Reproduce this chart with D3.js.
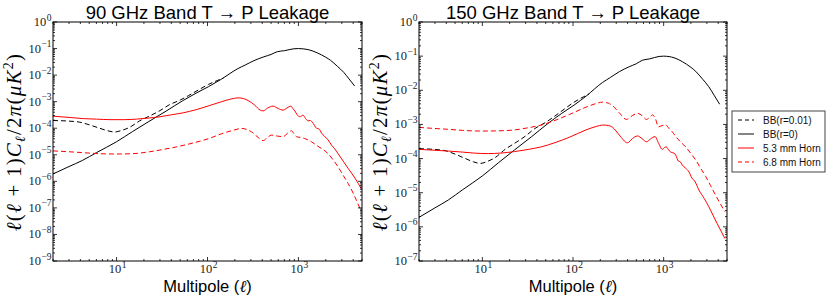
<!DOCTYPE html>
<html>
<head>
<meta charset="utf-8">
<style>
  body { margin: 0; background: #fff; }
  text { font-family: "Liberation Sans", Arial, sans-serif; }
</style>
</head>
<body>
<svg></svg>
<script src="https://cdnjs.cloudflare.com/ajax/libs/d3/7.8.5/d3.min.js"></script>
<script>
// values: [multipole l, l(l+1)C_l/2pi in uK^2]
const bbR0 = [[2,1.9e-6],[3,3.6e-6],[4.2,6.1e-6],[6,1.2e-5],[10,3.1e-5],[15,7.5e-5],[22.7,1.8e-4],
  [35,4.4e-4],[53,1.07e-3],[75,2.1e-3],[103,3.7e-3],[140,6.8e-3],[212,0.017],[260,0.024],[324,0.035],
  [417,0.049],[500,0.06],[584,0.076],[700,0.083],[891,0.098],[1000,0.1],[1148,0.097],[1300,0.09],
  [1607,0.069],[2000,0.047],[2255,0.036],[2700,0.021],[3150,0.0127],[3600,7.2e-3],[4150,3.9e-3]];

const bbR001 = [[2,1.95e-4],[3,1.85e-4],[3.9,1.7e-4],[5,1.35e-4],[6.4,1.02e-4],[8,8e-5],[9.5,7.2e-5],
  [11,8e-5],[13.7,1.05e-4],[18,1.9e-4],[22.7,2.8e-4],[30,4.6e-4],[37.7,7.5e-4],[50,1.15e-3],[62,1.7e-3],
  [80,2.8e-3],[103,4.5e-3],[130,6.4e-3],[150,7.8e-3]];

const horn53_90 = [[2,2.85e-4],[3,2.55e-4],[4.3,2.3e-4],[6,2.2e-4],[8.5,2.1e-4],[12,2.1e-4],[16.6,2.2e-4],
  [22,2.4e-4],[30,2.7e-4],[40,3.2e-4],[54,3.8e-4],[75,5e-4],[106,7.2e-4],[143,1e-3],[180,1.25e-3],
  [217,1.39e-3],[250,1.3e-3],[280,1.1e-3],[331,7.4e-4],[380,4.8e-4],[409,4.5e-4],[460,5.8e-4],
  [527,6.8e-4],[600,5.5e-4],[679,4.8e-4],[750,5.8e-4],[824,6.8e-4],[870,5.5e-4],[912,4.5e-4],
  [970,3.2e-4],[1035,2.7e-4],[1125,3.1e-4],[1200,2.3e-4],[1276,1.9e-4],[1350,1.95e-4],[1420,1.7e-4],
  [1581,1e-4],[1680,9.5e-5],[1800,6.5e-5],[1950,4.8e-5],[2100,3.8e-5],[2312,2.3e-5],[2500,1.7e-5],
  [2730,1.1e-5],[3100,5.8e-6],[3515,3.1e-6],[4200,1.3e-6],[4950,5e-7]];

const horn68_90 = [[2,1.4e-5],[3,1.3e-5],[4.3,1.2e-5],[6.5,1.1e-5],[10,1.07e-5],[15,1.1e-5],[23,1.3e-5],
  [33,1.6e-5],[46,2e-5],[70,2.8e-5],[106,4.2e-5],[143,6.2e-5],[190,8.3e-5],[237,9.8e-5],[270,9e-5],
  [305,7.3e-5],[360,4.5e-5],[409,3.4e-5],[460,4.6e-5],[506,5.5e-5],[600,5e-5],[679,4.8e-5],[760,6.5e-5],
  [840,8e-5],[900,6e-5],[953,4.8e-5],[1050,4.5e-5],[1175,4.1e-5],[1280,3.6e-5],[1390,3.1e-5],
  [1600,2.2e-5],[1850,1.6e-5],[2120,1.1e-5],[2400,6.5e-6],[2730,3.5e-6],[3100,1.7e-6],[3515,8.4e-7],
  [4100,3e-7],[4740,9.6e-8]];

const horn53_150 = [[2,1.86e-4],[3,1.75e-4],[4.2,1.66e-4],[6,1.55e-4],[8,1.45e-4],[11.6,1.4e-4],[16,1.45e-4],
  [22.7,1.6e-4],[32,1.85e-4],[44.6,2.2e-4],[65,3e-4],[91,4.2e-4],[139,6.9e-4],[180,8.7e-4],[212,9.6e-4],
  [245,9.3e-4],[274,8.2e-4],[324,4.9e-4],[399,2.9e-4],[450,3.8e-4],[515,4.6e-4],[580,3.8e-4],[646,3.1e-4],
  [720,3.8e-4],[804,4.4e-4],[880,2.8e-4],[966,1.86e-4],[1020,2.1e-4],[1070,2.2e-4],[1150,1.7e-4],
  [1230,1.5e-4],[1300,1.45e-4],[1360,1.26e-4],[1450,8.5e-5],[1530,8e-5],[1607,6.5e-5],[1750,5.2e-5],
  [1900,4.1e-5],[2050,2.7e-5],[2200,2.2e-5],[2450,1.2e-5],[2800,6.8e-6],[3150,3.9e-6],[3500,2.2e-6],
  [3890,1.26e-6],[4300,7.5e-7],[4730,4.6e-7]];

const horn68_150 = [[2,8.2e-4],[3,7.6e-4],[4.2,7.2e-4],[6,6.7e-4],[9.8,6.4e-4],[15,6.5e-4],[22.7,6.9e-4],
  [32,8e-4],[44.6,9.6e-4],[65,1.35e-3],[91,1.95e-3],[139,3.2e-3],[180,4.1e-3],[212,4.5e-3],[245,4.2e-3],
  [274,3.5e-3],[324,2.2e-3],[389,1.4e-3],[450,1.8e-3],[515,2.1e-3],[580,1.8e-3],[646,1.4e-3],[700,1.6e-3],
  [753,1.9e-3],[810,1.5e-3],[877,8.5e-4],[960,9.2e-4],[1057,9.6e-4],[1150,7.5e-4],[1250,6e-4],
  [1360,4.4e-4],[1550,3e-4],[1750,2.2e-4],[2000,1.4e-4],[2255,9.1e-5],[2550,5.3e-5],[2905,3e-5],
  [3300,1.6e-5],[3740,8.5e-6],[4730,2.8e-6]];

const xDomain = [2, 5000];
const xMajor = [10, 100, 1000];
const legendLabels = ['BB(r=0.01)', 'BB(r=0)', '5.3 mm Horn', '6.8 mm Horn'];
const titles = ['90 GHz Band T \u2192 P Leakage', '150 GHz Band T \u2192 P Leakage'];
const yExp = [[-9, 0], [-7, 0]];

const width = 830, height = 302;
const svg = d3.select('svg').attr('width', width).attr('height', height);
const serif = '"Liberation Serif", "DejaVu Serif", serif';

// line styles per series (same order as legend)
const styles = [
  { color: '#000', dash: '5,3' },
  { color: '#000', dash: null },
  { color: '#ff0000', dash: null },
  { color: '#ff0000', dash: '5,3' }
];

const panels = [
  { left: 53, right: 362, top: 22, bottom: 261, exp: yExp[0], title: titles[0],
    series: [bbR001, bbR0, horn53_90, horn68_90] },
  { left: 419, right: 727, top: 22, bottom: 261, exp: yExp[1], title: titles[1],
    series: [bbR001, bbR0, horn53_150, horn68_150] }
];

function powLabel(g, x, y, k, anchor) {
  const t = g.append('text').attr('x', x).attr('y', y).attr('text-anchor', anchor)
    .style('font-family', serif).style('font-size', '12.5px').attr('fill', '#222');
  t.append('tspan').text('10');
  t.append('tspan').attr('dy', -5.5).attr('dx', 0.5).style('font-size', '9.5px')
    .text(k < 0 ? '\u2212' + (-k) : String(k));
}

panels.forEach((p, i) => {
  const x = d3.scaleLog().domain(xDomain).range([p.left, p.right]);
  const y = d3.scaleLog().domain([Math.pow(10, p.exp[0]), Math.pow(10, p.exp[1])]).range([p.bottom, p.top]);
  const g = svg.append('g');

  g.append('clipPath').attr('id', 'clip' + i).append('rect')
    .attr('x', p.left).attr('y', p.top).attr('width', p.right - p.left).attr('height', p.bottom - p.top);

  const line = d3.line().x(d => x(d[0])).y(d => y(d[1])).curve(d3.curveMonotoneX);
  const curves = g.append('g').attr('clip-path', 'url(#clip' + i + ')');
  p.series.forEach((s, j) => {
    curves.append('path').datum(s)
      .attr('d', line)
      .attr('fill', 'none')
      .attr('stroke', styles[j].color)
      .attr('stroke-width', 1)
      .attr('stroke-dasharray', styles[j].dash);
  });

  // ticks, inward on all four sides
  const xTicks = [];
  for (let k = 0; k <= 3; k++) {
    for (let m = 1; m <= 9; m++) {
      const v = m * Math.pow(10, k);
      if (v >= xDomain[0] && v <= xDomain[1]) xTicks.push(v);
    }
  }
  const ticks = g.append('g').attr('stroke', '#000').attr('stroke-width', 0.8);
  xTicks.forEach(v => {
    const len = xMajor.includes(v) ? 4 : 2;
    const px = x(v);
    ticks.append('line').attr('x1', px).attr('x2', px).attr('y1', p.bottom).attr('y2', p.bottom - len);
    ticks.append('line').attr('x1', px).attr('x2', px).attr('y1', p.top).attr('y2', p.top + len);
  });
  for (let k = p.exp[0]; k <= p.exp[1]; k++) {
    for (let m = 1; m <= 9; m++) {
      if (k === p.exp[1] && m > 1) break;
      const py = y(m * Math.pow(10, k));
      const len = m === 1 ? 4 : 2;
      ticks.append('line').attr('x1', p.left).attr('x2', p.left + len).attr('y1', py).attr('y2', py);
      ticks.append('line').attr('x1', p.right).attr('x2', p.right - len).attr('y1', py).attr('y2', py);
    }
    powLabel(g, p.left - 1.5, y(Math.pow(10, k)) + 4, k, 'end');
  }
  xMajor.forEach(v => powLabel(g, x(v) + 1, 273, Math.round(Math.log10(v)), 'middle'));

  g.append('rect')
    .attr('x', p.left).attr('y', p.top)
    .attr('width', p.right - p.left).attr('height', p.bottom - p.top)
    .attr('fill', 'none').attr('stroke', '#000').attr('stroke-width', 1);

  // title
  g.append('text').attr('x', (p.left + p.right) / 2).attr('y', 18.5)
    .attr('text-anchor', 'middle').style('font-size', '18.5px').text(p.title);

  // x label
  const xl = g.append('text').attr('x', (p.left + p.right) / 2).attr('y', 292)
    .attr('text-anchor', 'middle').style('font-size', '16.5px');
  xl.append('tspan').text('Multipole (');
  xl.append('tspan').style('font-family', serif).style('font-style', 'italic').text('\u2113');
  xl.append('tspan').text(')');

  // y label
  const cy = (p.top + p.bottom) / 2 + 0.5;
  const yl = g.append('text').attr('transform', `translate(${p.left - 32},${cy}) rotate(-90)`)
    .attr('text-anchor', 'middle').style('font-family', serif).style('font-size', '21px')
    .style('letter-spacing', '1.2px');
  const parts = [
    ['\u2113', 'i'], ['(', ''], ['\u2113', 'i'], [' + 1)', ''], ['C', 'i'], ['\u2113', 'sub'],
    ['/2', ''], ['\u03c0', 'i'], ['(', ''], ['\u03bcK', 'i'], ['2', 'sup'], [')', '']
  ];
  parts.forEach(([t, kind], idx) => {
    const ts = yl.append('tspan').text(t);
    if (kind === 'i') ts.style('font-style', 'italic');
    if (kind === 'sub') ts.attr('dy', 4).style('font-size', '14px').style('font-style', 'italic');
    if (kind === 'sup') ts.attr('dy', -8).style('font-size', '14px');
    const prev = parts[idx - 1];
    if (prev && prev[1] === 'sub') ts.attr('dy', -4);
    if (prev && prev[1] === 'sup') ts.attr('dy', 8);
  });
});

// legend
const lg = svg.append('g');
lg.append('rect').attr('x', 732).attr('y', 111).attr('width', 93).attr('height', 61)
  .attr('fill', '#fff').attr('stroke', '#444').attr('stroke-width', 1);
legendLabels.forEach((label, j) => {
  const ly = 120 + j * 14;
  lg.append('line').attr('x1', 738).attr('x2', 754).attr('y1', ly).attr('y2', ly)
    .attr('stroke', j === 1 ? '#666' : styles[j].color)
    .attr('stroke-width', j === 1 ? 1.6 : 1)
    .attr('stroke-dasharray', styles[j].dash ? '4,3' : null);
  lg.append('text').attr('x', 763).attr('y', ly + 3.5).style('font-size', '10px').attr('fill', '#111').text(label);
});
</script>
</body>
</html>
